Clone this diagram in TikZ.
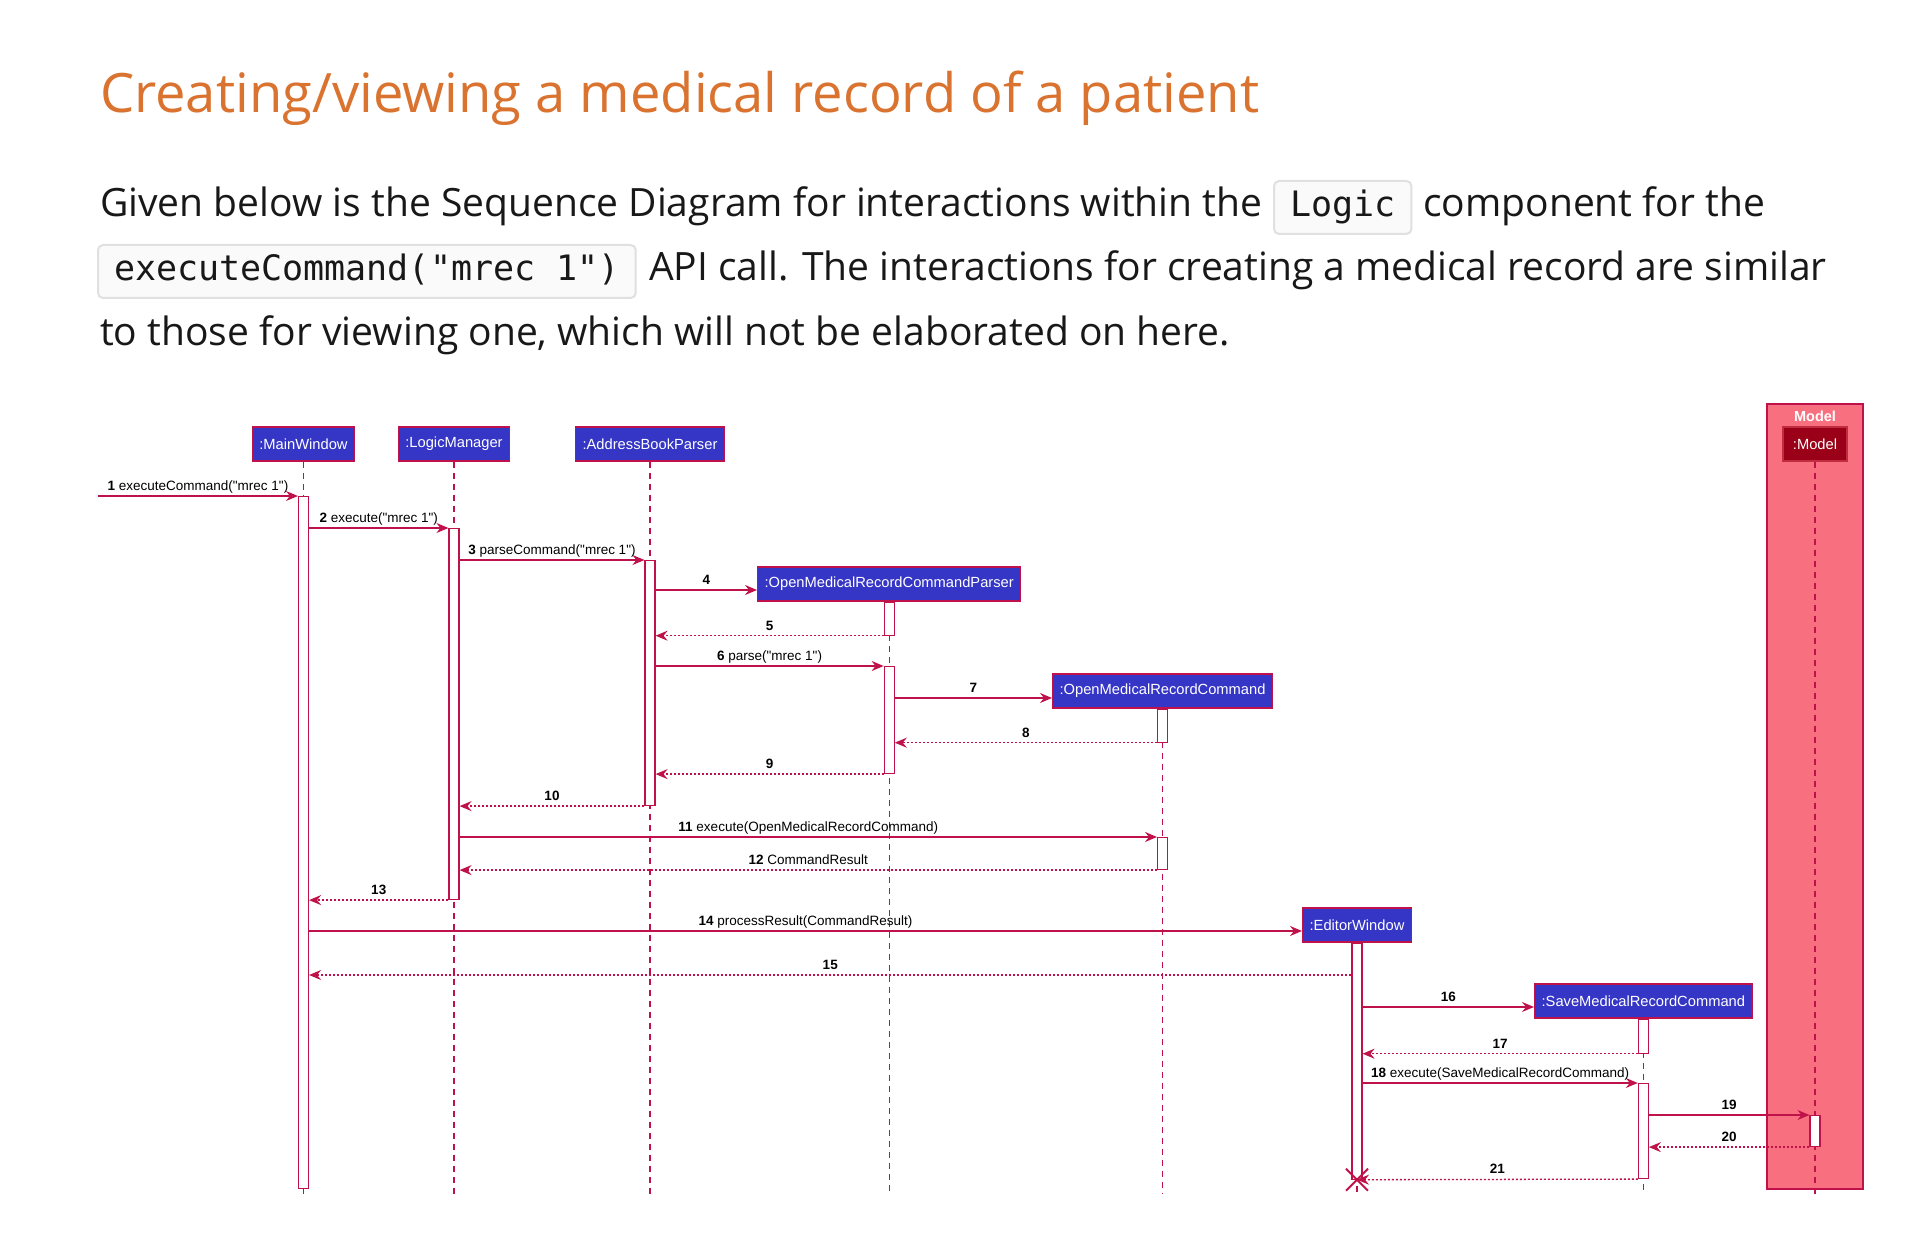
\documentclass[tikz,border=0pt]{standalone}
\usepackage{fontspec}
\setmainfont{Open Sans}
\newfontfamily\umlfont{Liberation Sans}
\newfontfamily\codefont{DejaVu Sans Mono}
\usetikzlibrary{arrows.meta}

\definecolor{umlred}{HTML}{C0124A}
\definecolor{umlblue}{HTML}{3535C6}
\definecolor{modelpink}{HTML}{F8707F}
\definecolor{modeldark}{HTML}{9A0018}
\definecolor{headorange}{HTML}{D9732F}
\definecolor{bodytext}{HTML}{181818}

\tikzset{
  body/.style={anchor=base west, inner sep=0pt, text=bodytext, font=\fontsize{39}{46}\selectfont},
  codebox/.style={anchor=base west, draw=black!12, fill=black!2, line width=2pt, rounded corners=5pt,
    inner xsep=16pt, inner ysep=9pt, text height=27pt, text depth=8pt, text=bodytext,
    font=\codefont\fontsize{35}{40}\selectfont},
  party/.style={draw=umlred, fill=umlblue, text=white, line width=1.2pt, inner xsep=7pt,
    minimum height=34pt, font=\umlfont\fontsize{14.7}{16}\selectfont},
  lifeline/.style={umlred, dash pattern=on 6pt off 5pt, line width=1.1pt},
  actbar/.style={draw=umlred, fill=white, line width=1.1pt, inner sep=0pt, minimum width=10pt, anchor=north},
  call/.style={umlred, line width=1.3pt, -{Stealth[length=12pt,width=10pt,inset=4pt]}},
  reply/.style={call, dash pattern=on 2pt off 2pt},
  lbl/.style={font=\umlfont\fontsize{13.5}{15}\selectfont, text=black, inner sep=0pt, text depth=3pt, above=2pt},
}

\begin{document}
\begin{tikzpicture}[x=1pt, y=-1pt]
  \useasboundingbox[fill=white] (0,0) rectangle (1924,1238);

  % heading and text
  \node[anchor=base west, inner sep=0pt, text=headorange, font=\fontsize{54.3}{62}\selectfont]
    (title) at (100,113) {Creating/viewing a medical record of a patient};
  \node[body] (lineA) at (100,217) {Given below is the Sequence Diagram for interactions within the};
  \node[codebox] (logic) at (1273,217) {Logic};
  \node[body] (lineB) at (1423,217) {component for the};
  \node[codebox] (api) at (97,281) {executeCommand("mrec 1")};
  \node[body] (lineC) at (649,281) {API call. The interactions for creating a medical record are similar};
  \node[body] (lineD) at (100,345) {to those for viewing one, which will not be elaborated on here.};

  % model box
  \draw[draw=umlred, fill=modelpink, line width=1.2pt] (1767,404) rectangle (1863,1189);
  \node[text=white, font=\umlfont\bfseries\fontsize{14.5}{16}\selectfont] (modeltitle) at (1815,416) {Model};

  % participants
  \node[party] (mw) at (303.5,444) {:MainWindow};
  \node[party] (lm) at (454,444) {:LogicManager};
  \node[party] (abp) at (650,444) {:AddressBookParser};
  \node[party, anchor=west] (omrcp) at (757,584) {:OpenMedicalRecordCommandParser};
  \node[party, anchor=west] (omrc) at (1052,691) {:OpenMedicalRecordCommand};
  \node[party, anchor=west] (ew) at (1302,925) {:EditorWindow};
  \node[party, anchor=west] (smrc) at (1534,1001) {:SaveMedicalRecordCommand};
  \node[party, fill=modeldark, draw=modeldark!60!modelpink, inner xsep=10pt] (mdl) at (1815,444) {:Model};

  % lifelines
  \foreach \p in {mw, lm, abp, omrcp, omrc, smrc, mdl}
    \draw[lifeline] (\p.south) -- (\p.south |- 0,1194);
  \draw[lifeline] (ew.south |- 0,1186) -- (ew.south |- 0,1194);

  % activations
  \node[actbar, minimum height=692pt] (mw1) at (mw.south |- 0,496) {};
  \node[actbar, minimum height=371pt] (lm1) at (lm.south |- 0,528) {};
  \node[actbar, minimum height=245pt] (abp1) at (abp.south |- 0,560) {};
  \node[actbar, minimum height=33pt] (omrcp1) at (omrcp.south) {};
  \node[actbar, minimum height=107pt] (omrcp2) at (omrcp.south |- 0,666) {};
  \node[actbar, minimum height=33pt] (omrc1) at (omrc.south) {};
  \node[actbar, minimum height=32pt] (omrc2) at (omrc.south |- 0,837) {};
  \node[actbar, minimum height=236pt] (ew1) at (ew.south) {};
  \node[actbar, minimum height=34pt] (smrc1) at (smrc.south) {};
  \node[actbar, minimum height=95pt] (smrc2) at (smrc.south |- 0,1083) {};
  \node[actbar, minimum height=31pt] (mdl1) at (mdl.south |- 0,1115) {};

  % messages
  \coordinate (entry) at (98,496);
  \draw[call] (entry) -- (mw1.west |- entry) node[lbl, midway] {\textbf{1} executeCommand("mrec 1")};
  \draw[call] (mw1.east |- 0,528) -- (lm1.north west) node[lbl, midway] {\textbf{2} execute("mrec 1")};
  \draw[call] (lm1.east |- 0,560) -- (abp1.north west) node[lbl, midway] {\textbf{3} parseCommand("mrec 1")};
  \draw[call] (abp1.east |- 0,590) -- (omrcp.west |- 0,590) node[lbl, midway] {\textbf{4}};
  \draw[reply] (omrcp1.south west) -- (abp1.east |- omrcp1.south) node[lbl, midway] {\textbf{5}};
  \draw[call] (abp1.east |- 0,666) -- (omrcp2.north west) node[lbl, midway] {\textbf{6} parse("mrec 1")};
  \draw[call] (omrcp2.east |- 0,698) -- (omrc.west |- 0,698) node[lbl, midway] {\textbf{7}};
  \draw[reply] (omrc1.south west) -- (omrcp2.east |- omrc1.south) node[lbl, midway] {\textbf{8}};
  \draw[reply] (omrcp2.south west) -- (abp1.east |- omrcp2.south) node[lbl, midway] {\textbf{9}};
  \draw[reply] (abp1.south west) -- (lm1.east |- abp1.south) node[lbl, midway] {\textbf{10}};
  \draw[call] (lm1.east |- 0,837) -- (omrc2.north west) node[lbl, midway] {\textbf{11} execute(OpenMedicalRecordCommand)};
  \draw[reply] (omrc2.south west) -- (lm1.east |- omrc2.south) node[lbl, midway] {\textbf{12} CommandResult};
  \draw[reply] (lm1.south west) -- (mw1.east |- lm1.south) node[lbl, midway] {\textbf{13}};
  \draw[call] (mw1.east |- 0,931) -- (ew.west |- 0,931) node[lbl, midway] {\textbf{14} processResult(CommandResult)};
  \draw[reply] (ew1.west |- 0,975) -- (mw1.east |- 0,975) node[lbl, midway] {\textbf{15}};
  \draw[call] (ew1.east |- 0,1007) -- (smrc.west |- 0,1007) node[lbl, midway] {\textbf{16}};
  \draw[reply] (smrc1.south west) -- (ew1.east |- smrc1.south) node[lbl, midway] {\textbf{17}};
  \draw[call] (ew1.east |- 0,1083) -- (smrc2.north west) node[lbl, midway] {\textbf{18} execute(SaveMedicalRecordCommand)};
  \draw[call] (smrc2.east |- 0,1115) -- (mdl1.north west) node[lbl, midway] {\textbf{19}};
  \draw[reply] (mdl1.south west) -- (smrc2.east |- mdl1.south) node[lbl, midway] {\textbf{20}};
  \draw[reply] (smrc2.south west) -- (ew1.south) node[lbl, midway] {\textbf{21}};

  % destroy mark
  \draw[umlred, line width=2pt] ([shift={(-11,-11)}]ew1.south) -- ([shift={(11,11)}]ew1.south)
    ([shift={(-11,11)}]ew1.south) -- ([shift={(11,-11)}]ew1.south);
\end{tikzpicture}
\end{document}
